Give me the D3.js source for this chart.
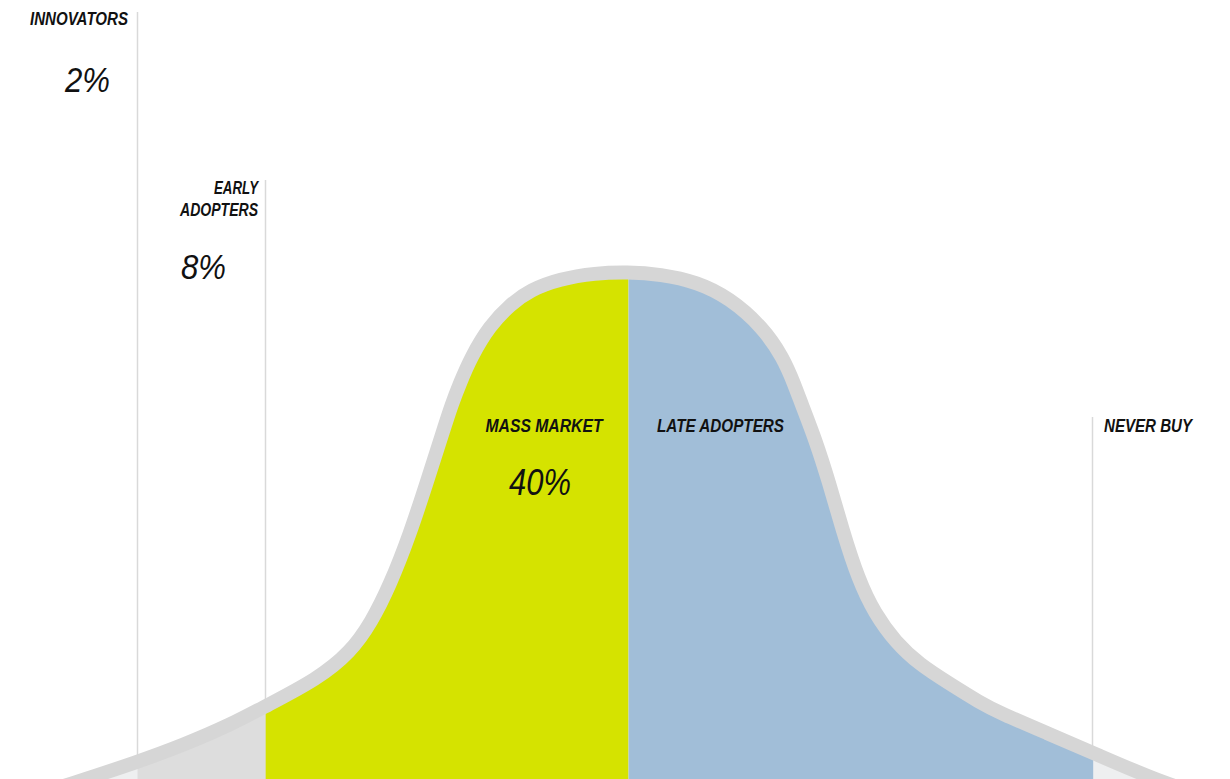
<!DOCTYPE html>
<html>
<head>
<meta charset="utf-8">
<script src="https://cdn.jsdelivr.net/npm/d3@7"></script>
<style>
  body { margin: 0; background: #fff; }
  svg { display: block; }
  text { font-family: 'Liberation Sans', Arial, sans-serif; font-style: italic; fill: #111; }
  .label { font-weight: bold; font-size: 18px; }
  .pct { font-weight: normal; }
</style>
</head>
<body>
<svg width="1230" height="779"></svg>
<script>

// Adoption curve: segments, their shares and where each one starts
const segments = ['INNOVATORS', 'EARLY ADOPTERS', 'MASS MARKET', 'LATE ADOPTERS', 'NEVER BUY'];
const shares = ['2%', '8%', '40%', '', ''];
const segmentStart = [0, 11.2, 21.6, 51.1, 88.9];
const segmentEnd = [11.2, 21.6, 51.1, 88.9, 100];

// Curve outline (time 0-100, relative height 0-100)
const curveTime = [1.6, 5.7, 11.2, 14.9, 18.7, 21.6, 25.8, 28.5, 30.2, 31.7, 33.3, 34.7, 36.0, 36.7, 37.4, 38.3, 39.8, 41.5, 43.1, 45.5, 48.4, 51.0,
  53.7, 56.7, 59.3, 62.0, 63.7, 64.6, 65.2, 66.3, 67.4, 68.5, 69.8, 71.1, 72.8, 74.8, 77.1, 79.7, 81.3, 85.1, 88.9, 94.7, 99.2];
const curveHeight = [0, 3.0, 7.2, 10.4, 14.2, 17.8, 22.9, 28.0, 33.7, 40.7, 50.2, 60.2, 69.7, 74.8, 79.0, 83.9, 89.8, 93.9, 96.6, 98.7, 99.8, 100,
  99.6, 98.1, 95.1, 89.6, 83.7, 78.6, 74.8, 68.2, 60.2, 51.1, 41.7, 35.4, 29.9, 25.6, 22.2, 18.4, 16.5, 12.7, 8.9, 3.0, 0];

let svg = d3.select('svg');
let width = +svg.attr('width');
let height = +svg.attr('height');

let x = d3.scaleLinear().domain([0, 100]).range([0, width]);
let y = d3.scaleLinear().domain([0, 100]).range([800, 272]);

let points = curveTime.map((t, i) => ({ t: t, h: curveHeight[i] }));

let colors = ['#eeeff0', '#dddddd', '#d5e300', '#a1bed8', '#eeeff0'];

// Divider lines go up to each label
let dividers = [
  { t: segmentStart[1], top: 12 },
  { t: segmentStart[2], top: 180 },
  { t: segmentStart[4], top: 417 }
];

svg.append('g')
  .selectAll('line')
  .data(dividers)
  .enter().append('line')
    .attr('x1', d => Math.round(x(d.t)) - 0.5)
    .attr('x2', d => Math.round(x(d.t)) - 0.5)
    .attr('y1', d => d.top)
    .attr('y2', height)
    .attr('stroke', '#d9d9d9')
    .attr('stroke-width', 1.5);

// Area under the curve used as a clip for the coloured segments
let area = d3.area()
  .x(d => x(d.t))
  .y0(y(0) + 20)
  .y1(d => y(d.h))
  .curve(d3.curveBasis);

let line = d3.line()
  .x(d => x(d.t))
  .y(d => y(d.h))
  .curve(d3.curveBasis);

svg.append('clipPath')
    .attr('id', 'under')
  .append('path')
    .attr('d', area(points));

svg.append('g')
    .attr('clip-path', 'url(#under)')
  .selectAll('rect')
  .data(segments)
  .enter().append('rect')
    .attr('x', (d, i) => x(segmentStart[i]))
    .attr('width', (d, i) => x(segmentEnd[i]) - x(segmentStart[i]))
    .attr('y', 0)
    .attr('height', height)
    .attr('fill', (d, i) => colors[i]);

svg.append('path')
  .attr('d', line(points))
  .attr('fill', 'none')
  .attr('stroke', '#d6d6d6')
  .attr('stroke-width', 14);

// Labels (text squeezed to the condensed widths of the original)
let labelLayout = [
  { lines: [['INNOVATORS', 98]], anchor: 'end', lx: 128, ly: 25, px: 110, py: 92, size: 35, pw: 45 },
  { lines: [['EARLY', 44], ['ADOPTERS', 78]], anchor: 'end', lx: 258, ly: 194, px: 226, py: 279, size: 35, pw: 45 },
  { lines: [['MASS MARKET', 117]], anchor: 'middle', lx: 544, ly: 432, px: 540, py: 495, size: 37, pw: 62 },
  { lines: [['LATE ADOPTERS', 127]], anchor: 'start', lx: 657, ly: 432 },
  { lines: [['NEVER BUY', 88]], anchor: 'start', lx: 1104, ly: 432 }
];

let labels = svg.append('g');

labelLayout.forEach((l, i) => {
  l.lines.forEach((ln, j) => {
    labels.append('text')
      .attr('class', 'label')
      .attr('text-anchor', l.anchor)
      .attr('x', l.lx)
      .attr('y', l.ly + j * 22)
      .attr('textLength', ln[1])
      .attr('lengthAdjust', 'spacingAndGlyphs')
      .text(ln[0]);
  });

  if (shares[i]) {
    labels.append('text')
      .attr('class', 'pct')
      .attr('text-anchor', l.anchor)
      .attr('x', l.px)
      .attr('y', l.py)
      .attr('textLength', l.pw)
      .attr('lengthAdjust', 'spacingAndGlyphs')
      .style('font-size', l.size + 'px')
      .text(shares[i]);
  }
});

</script>
</body>
</html>
